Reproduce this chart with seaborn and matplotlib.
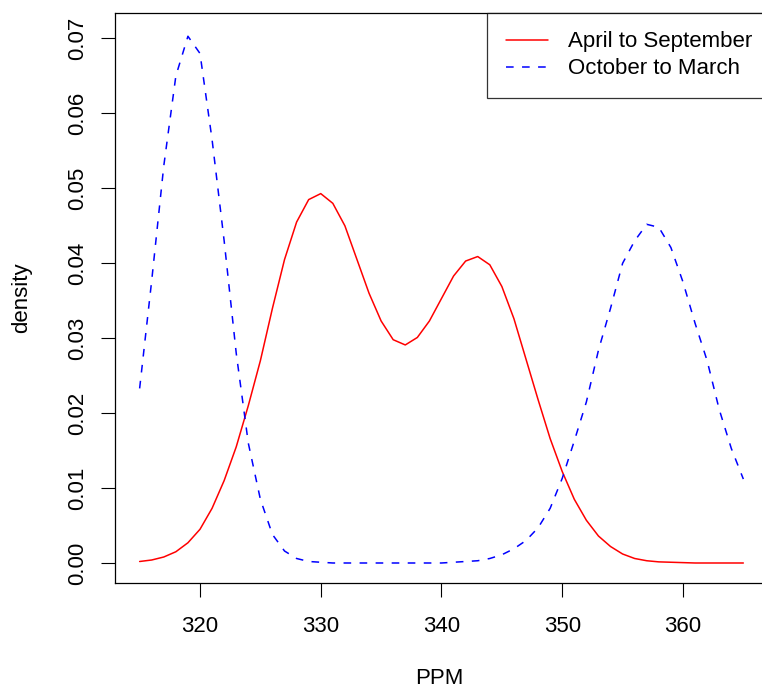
import numpy as np
import pandas as pd
import matplotlib
matplotlib.use("Agg")
import matplotlib.pyplot as plt
import seaborn as sns

# Density estimates, one value per ppm from 315 to 365
ppm = list(range(315, 366))
summer = [0.0002, 0.0004, 0.0008, 0.0015, 0.0027, 0.0045, 0.0073, 0.0110, 0.0155, 0.0210,
          0.0270, 0.0340, 0.0405, 0.0455, 0.0485, 0.0493, 0.0480, 0.0450, 0.0405, 0.0360,
          0.0323, 0.0298, 0.0291, 0.0301, 0.0323, 0.0353, 0.0383, 0.0403, 0.0409, 0.0398,
          0.0369, 0.0326, 0.0272, 0.0218, 0.0166, 0.0122, 0.0085, 0.0057, 0.0036, 0.0022,
          0.0012, 0.0006, 0.0003, 0.00015, 0.0001, 0.00005, 0.0, 0.0, 0.0, 0.0, 0.0]
winter = [0.0233, 0.0377, 0.0530, 0.0650, 0.0703, 0.0680, 0.0565, 0.0430, 0.0280, 0.0160,
          0.0085, 0.0038, 0.0016, 0.0006, 0.0002, 0.0001, 0.0, 0.0, 0.0, 0.0,
          0.0, 0.0, 0.0, 0.0, 0.0, 0.0, 0.0001, 0.0002, 0.0003, 0.0006,
          0.0011, 0.0019, 0.0030, 0.0047, 0.0073, 0.0113, 0.0163, 0.0215, 0.0284, 0.0340,
          0.0400, 0.0430, 0.0452, 0.0448, 0.0421, 0.0375, 0.0320, 0.0270, 0.0205, 0.0153,
          0.0112]
labels = ["April to September", "October to March"]

sns.set_style("white")
plt.rcParams['font.family'] = ['Liberation Sans', 'DejaVu Sans']
plt.rcParams['font.size'] = 16
plt.rcParams['text.color'] = 'black'
plt.rcParams['axes.labelcolor'] = 'black'
plt.rcParams['xtick.color'] = 'black'
plt.rcParams['ytick.color'] = 'black'

W, H = 762, 688
fig = plt.figure(figsize=(W / 100, H / 100), dpi=100)
# plot region in pixels: left 115, right past the edge, top 12.5, bottom 583
ax = fig.add_axes([115 / W, 1 - 583 / H, (764 - 115) / W, (583 - 12.5) / H])

sns.lineplot(x=ppm, y=summer, color="red", linewidth=1.1, ax=ax, label=labels[0])
sns.lineplot(x=ppm, y=winter, color="blue", linewidth=1.1, linestyle=(0, (5, 5.5)),
             ax=ax, label=labels[1])

ax.set_xlim(312.96, 366.71)
ax.set_ylim(-0.00267, 0.07347)
ax.set_xticks([320, 330, 340, 350, 360])
ax.set_yticks(np.arange(0, 0.071, 0.01))
ax.set_yticklabels([f"{v:.2f}" for v in np.arange(0, 0.071, 0.01)], rotation=90, va="center")
ax.tick_params(direction="out", length=10, width=0.8, colors="black", labelsize=16,
               bottom=True, left=True)
ax.tick_params(axis="x", pad=13.5)
ax.tick_params(axis="y", pad=9)
for s in ax.spines.values():
    s.set_color("black")
    s.set_linewidth(0.9)

ax.set_xlabel("PPM", fontsize=16)
ax.set_ylabel("density", fontsize=16)
ax.xaxis.set_label_coords(0.5, (583 - 679) / 570.5)
ax.xaxis.label.set_va("center")
ax.yaxis.set_label_coords((22 - 115) / 649, 0.5)
ax.yaxis.label.set_va("center")

leg = ax.legend(loc="upper left", bbox_to_anchor=(487 / W, 1 - 12.5 / H),
                bbox_transform=fig.transFigure, frameon=True, fancybox=False,
                borderaxespad=0, borderpad=0.85, handlelength=1.9, handletextpad=0.9,
                labelspacing=0.27, fontsize=16)
leg.get_frame().set_edgecolor("black")
leg.get_frame().set_linewidth(0.9)

fig.savefig("out.png", dpi=100)
